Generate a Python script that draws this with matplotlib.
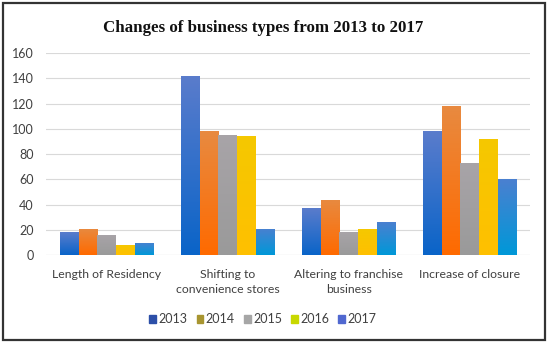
import matplotlib
matplotlib.use("Agg")
import matplotlib.pyplot as plt
import numpy as np
from matplotlib.patches import Rectangle

categories = ["Length of Residency", "Shifting to\nconvenience stores",
              "Altering to franchise\nbusiness", "Increase of closure"]
years = ["2013", "2014", "2015", "2016", "2017"]
v2013 = [18, 142, 37, 98]
v2014 = [21, 98, 44, 118]
v2015 = [16, 95, 18, 73]
v2016 = [8, 94, 21, 92]
v2017 = [10, 21, 26, 60]
series = [v2013, v2014, v2015, v2016, v2017]

bar_top = ["#5a7ccc", "#e88a40", "#a8a4a8", "#f5c800", "#4a80d0"]
bar_bot = ["#0a64c8", "#ff6a00", "#9a9a9a", "#ffc000", "#0098d8"]
legend_colors = ["#2c4fa8", "#a89530", "#a6a6a6", "#c8d800", "#5068d0"]

plt.rcParams["font.family"] = ["Lato", "DejaVu Sans"]
fig = plt.figure(figsize=(5.5, 3.44), dpi=100)
ax = fig.add_axes([0.084, 0.258, 0.880, 0.588])

x = np.arange(len(categories))
w = 0.154
for i, vals in enumerate(series):
    bars = ax.bar(x + (i - 2) * w, vals, w, color=bar_bot[i], zorder=2)
    for b in bars:
        x0, y0 = b.get_x(), b.get_y()
        bw, bh = b.get_width(), b.get_height()
        grad = np.linspace(0, 1, 64).reshape(-1, 1)
        c1 = np.array(matplotlib.colors.to_rgb(bar_top[i]))
        c2 = np.array(matplotlib.colors.to_rgb(bar_bot[i]))
        img = (c1[None, None, :] * (1 - grad[:, :, None]) + c2[None, None, :] * grad[:, :, None])
        im = ax.imshow(img, extent=[x0, x0 + bw, y0, y0 + bh], aspect="auto",
                       origin="upper", zorder=3)
        im.set_clip_path(b)

ax.set_xlim(-0.5, 3.5)
ax.set_ylim(0, 160)
ax.set_yticks(range(0, 161, 20))
ax.set_xticks(x)
ax.set_xticklabels(categories, fontsize=8.8, color="#404040", linespacing=1.4)
ax.tick_params(axis="y", labelsize=9, colors="#404040", length=0, pad=9)
ax.tick_params(axis="x", length=0, pad=10)
ax.grid(axis="y", color="#d9d9d9", linewidth=0.8, zorder=0)
for s in ax.spines.values():
    s.set_visible(False)
ax.axhline(0, color="#d9d9d9", linewidth=0.8, zorder=1)

handles = [Rectangle((0, 0), 1, 1, color=c) for c in legend_colors]
fig.legend(handles, years, loc="center", bbox_to_anchor=(0.478, 0.072), ncol=5,
           frameon=False, fontsize=9, handlelength=0.55, handleheight=0.55,
           handletextpad=0.2, columnspacing=0.7, labelcolor="#404040")

fig.text(0.478, 0.92, "Changes of business types from 2013 to 2017",
         ha="center", va="center", fontsize=12.2, fontweight="bold",
         family=["Liberation Serif", "DejaVu Serif"], color="#111111")

border = Rectangle((0.006, 0.012), 0.985, 0.978, transform=fig.transFigure,
                   fill=False, edgecolor="#333333", linewidth=1.6)
fig.patches.append(border)

fig.savefig("out.png", dpi=100)
